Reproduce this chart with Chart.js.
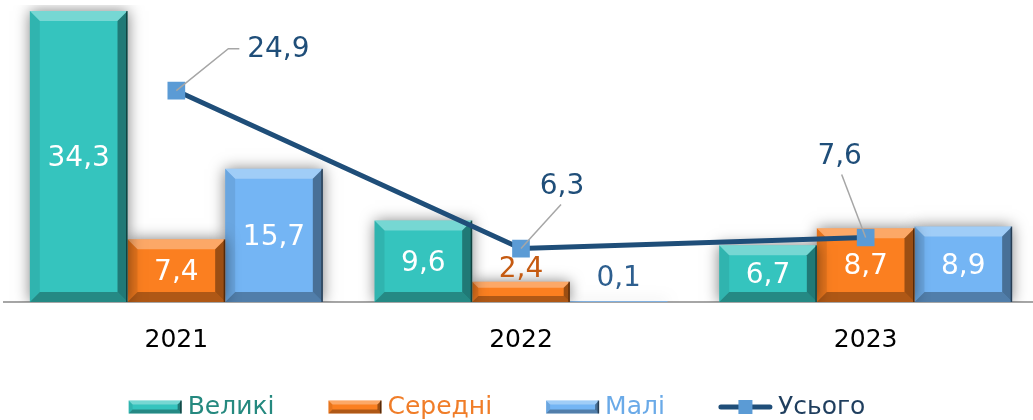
<!DOCTYPE html>
<html lang="uk">
<head>
<meta charset="utf-8">
<script src="https://cdn.jsdelivr.net/npm/chart.js@4"></script>
<style>
  html, body { margin: 0; padding: 0; background: #fff; overflow: hidden; }
</style>
</head>
<body>
<canvas id="chart" width="1038" height="420"></canvas>
<script>
// роки та значення по групах підприємств
const years = ["2021", "2022", "2023"];
const velyki = [34.3, 9.6, 6.7];
const seredni = [7.4, 2.4, 8.7];
const mali = [15.7, 0.1, 8.9];
const usoho = [24.9, 6.3, 7.6];

const FONT = "'DejaVu Sans', Verdana, sans-serif";

// зсуви підписів лінії "Усього" від точки (виноска + текст)
const lineLabelPos = [
  { leader: [[52, -42], [63, -42]], text: [102, -41] },
  { leader: [[40, -44]], text: [41, -62] },
  { leader: [[-24, -63]], text: [-26, -81] },
];

const fmt = v => v.toFixed(1).replace(".", ",");

// скошені краї прямокутника (ефект рельєфу)
function bevel(ctx, l, t, r, b, d) {
  const poly = (pts, fill) => {
    ctx.beginPath();
    ctx.moveTo(pts[0][0], pts[0][1]);
    pts.slice(1).forEach(p => ctx.lineTo(p[0], p[1]));
    ctx.closePath();
    ctx.fillStyle = fill;
    ctx.fill();
  };
  poly([[l, t], [r, t], [r - d, t + d], [l + d, t + d]], "rgba(255,255,255,0.32)");
  poly([[l, t], [l + d, t + d], [l + d, b - d], [l, b]], "rgba(0,0,0,0.08)");
  poly([[l, b], [l + d, b - d], [r - d, b - d], [r, b]], "rgba(0,0,0,0.30)");
  poly([[r, t], [r, b], [r - d, b - d], [r - d, t + d]], "rgba(0,0,0,0.38)");
  ctx.fillStyle = "rgba(0,0,0,0.45)";
  ctx.fillRect(r - 1.5, t, 1.5, b - t);
}

const bevelBars = {
  id: "bevelBars",
  beforeDatasetDraw(chart, args) {
    if (args.meta.type !== "bar") return;
    const ctx = chart.ctx;
    ctx.save();
    ctx.shadowColor = "rgba(0,0,0,0.5)";
    ctx.shadowBlur = 14;
  },
  afterDatasetDraw(chart, args) {
    if (args.meta.type !== "bar") return;
    const ctx = chart.ctx;
    ctx.restore();
    ctx.save();
    args.meta.data.forEach(bar => {
      const p = bar.getProps(["x", "y", "base", "width"], true);
      const l = p.x - p.width / 2, r = p.x + p.width / 2;
      const h = p.base - p.y;
      const d = Math.min(10, h * 0.3, p.width * 0.3);
      if (d > 0.5) bevel(ctx, l, p.y, r, p.base, d);
    });
    ctx.restore();
  }
};

const valueLabels = {
  id: "valueLabels",
  afterDatasetsDraw(chart) {
    const ctx = chart.ctx;
    ctx.save();
    ctx.font = "28px " + FONT;
    ctx.textAlign = "center";
    ctx.textBaseline = "middle";
    chart.data.datasets.forEach((ds, i) => {
      const meta = chart.getDatasetMeta(i);
      if (meta.type === "bar") {
        meta.data.forEach((bar, j) => {
          const p = bar.getProps(["x", "y", "base"], true);
          const h = p.base - p.y;
          let y = (p.y + p.base) / 2 + 2;
          ctx.fillStyle = "#ffffff";
          if (h < 30) {
            y = Math.min(p.y - 12, p.base - 23);
            ctx.fillStyle = ds.outsideLabelColor;
          }
          ctx.fillText(fmt(ds.data[j]), p.x, y);
        });
      } else {
        meta.data.forEach((pt, j) => {
          const pos = lineLabelPos[j];
          ctx.strokeStyle = "#a6a6a6";
          ctx.lineWidth = 1.5;
          ctx.beginPath();
          ctx.moveTo(pt.x, pt.y);
          pos.leader.forEach(o => ctx.lineTo(pt.x + o[0], pt.y + o[1]));
          ctx.stroke();
          ctx.fillStyle = "#1f4e79";
          ctx.fillText(fmt(ds.data[j]), pt.x + pos.text[0], pt.y + pos.text[1]);
        });
      }
    });
    ctx.restore();
  }
};

// легенда внизу з тими ж скошеними маркерами
const bottomLegend = {
  id: "bottomLegend",
  afterDraw(chart) {
    const ctx = chart.ctx;
    const cy = 407, boxW = 53, boxH = 13, gapText = 6, gapItem = 54;
    ctx.save();
    ctx.font = "25px " + FONT;
    ctx.textBaseline = "middle";
    const items = chart.data.datasets.map(ds => ({
      ds, w: boxW + gapText + ctx.measureText(ds.label).width
    }));
    const total = items.reduce((s, it) => s + it.w, 0) + gapItem * (items.length - 1);
    let x = 497 - total / 2;
    items.forEach(({ ds }) => {
      if (ds.type === "line") {
        ctx.strokeStyle = ds.borderColor;
        ctx.lineWidth = 5;
        ctx.lineCap = "round";
        ctx.beginPath();
        ctx.moveTo(x + 2, cy);
        ctx.lineTo(x + boxW - 2, cy);
        ctx.stroke();
        ctx.fillStyle = ds.pointBackgroundColor;
        ctx.fillRect(x + boxW / 2 - 7, cy - 7, 14, 14);
      } else {
        ctx.fillStyle = ds.backgroundColor;
        ctx.fillRect(x, cy - boxH / 2, boxW, boxH);
        bevel(ctx, x, cy - boxH / 2, x + boxW, cy + boxH / 2, 4);
      }
      ctx.fillStyle = ds.legendColor;
      ctx.fillText(ds.label, x + boxW + gapText, cy);
      x += boxW + gapText + ctx.measureText(ds.label).width + gapItem;
    });
    ctx.restore();
  }
};

new Chart(document.getElementById("chart"), {
  data: {
    labels: years,
    datasets: [
      {
        type: "bar", label: "Великі", data: velyki, order: 1,
        backgroundColor: "#35c4be", legendColor: "#25897f", outsideLabelColor: "#ffffff"
      },
      {
        type: "bar", label: "Середні", data: seredni, order: 1,
        backgroundColor: "#fb7f20", legendColor: "#f07d28", outsideLabelColor: "#c55a11"
      },
      {
        type: "bar", label: "Малі", data: mali, order: 1,
        backgroundColor: "#74b5f4", legendColor: "#6aaae8", outsideLabelColor: "#2e5f8f"
      },
      {
        type: "line", label: "Усього", data: usoho, order: 0,
        borderColor: "#1f4e79", borderWidth: 5,
        pointStyle: "rect", pointRadius: 12.5, pointHoverRadius: 12.5,
        pointBackgroundColor: "#5b9bd5", pointBorderWidth: 0,
        legendColor: "#1f3e5e"
      }
    ]
  },
  options: {
    responsive: false,
    animation: false,
    layout: { autoPadding: false, padding: { left: 4, right: 0, top: 5, bottom: 50 } },
    datasets: { bar: { categoryPercentage: 0.85, barPercentage: 1.0, borderWidth: 0 } },
    plugins: { legend: { display: false }, tooltip: { enabled: false } },
    scales: {
      x: {
        grid: { display: false },
        border: { display: true, color: "#a6a6a6", width: 2 },
        ticks: { color: "#000000", font: { family: FONT, size: 25 }, padding: 15 }
      },
      y: { display: false, min: 0, max: 35 }
    }
  },
  plugins: [bevelBars, valueLabels, bottomLegend]
});
</script>
</body>
</html>
